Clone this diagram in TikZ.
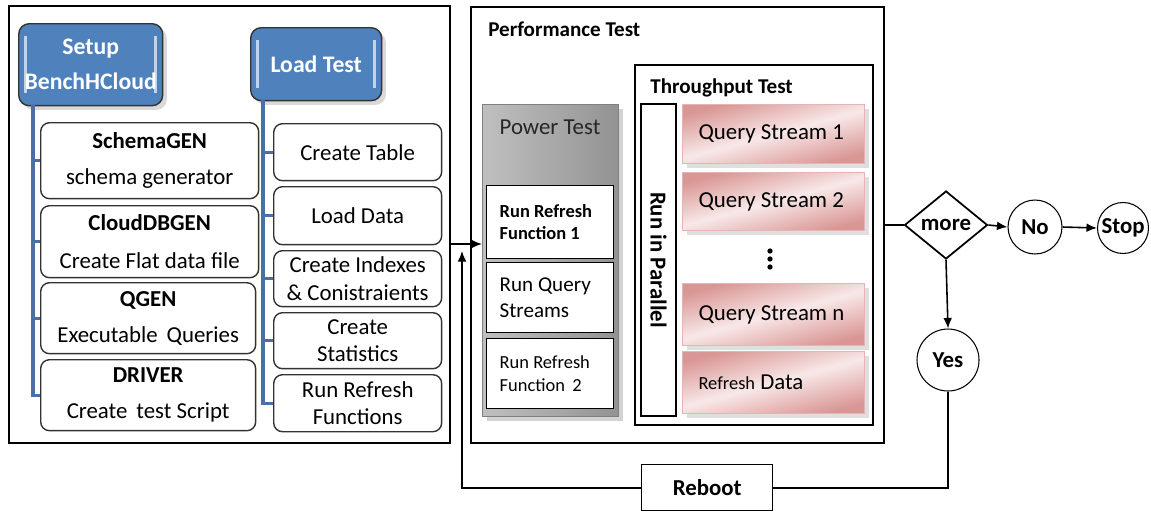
\documentclass[tikz,border=0pt]{standalone}
\usepackage{fontspec}
\setmainfont{Carlito}
\usepackage{tikz}
\usetikzlibrary{shapes.geometric, arrows.meta, positioning, calc, shadows}
\definecolor{setblue}{HTML}{4F81BD}
\definecolor{treeblue}{HTML}{4A6FA5}
\definecolor{pinkdark}{HTML}{D99694}
\definecolor{pinklight}{HTML}{F8E8E8}
\tikzstyle{arrow} = [line width=0.9pt,-{Latex[length=6pt,width=5pt]}]
\tikzstyle{frame} = [draw, line width=1pt, anchor=north west, inner sep=0pt]
\tikzstyle{head} = [draw=black!80, line width=0.8pt, fill=setblue, rounded corners=6pt, text=white, font=\fontsize{13.5}{16}\selectfont\bfseries, align=center, anchor=north west, drop shadow={opacity=0.3},
  path picture={
    \draw[white!65!setblue, line width=1.5pt] ([xshift=4pt,yshift=-7pt]path picture bounding box.north west) -- ([xshift=4pt,yshift=7pt]path picture bounding box.south west);
    \draw[white!65!setblue, line width=1.5pt] ([xshift=-4pt,yshift=-7pt]path picture bounding box.north east) -- ([xshift=-4pt,yshift=7pt]path picture bounding box.south east);
  }]
\tikzstyle{lbox} = [draw=black!80, line width=0.8pt, rounded corners=5pt, align=center, anchor=north west, fill=white]
\tikzstyle{tree} = [draw=treeblue, line width=1.8pt]
\tikzstyle{wbox} = [draw, line width=0.8pt, fill=white, anchor=north west, align=flush left, inner xsep=0.26cm, text width=2.02cm, minimum width=2.54cm]
\tikzstyle{qbox} = [draw=pinkdark!70, line width=0.6pt, top color=pinkdark, bottom color=pinkdark, middle color=pinklight, shading angle=15, anchor=north west, align=flush left, inner xsep=0.32cm, text width=3.0cm, drop shadow={opacity=0.25}]
\tikzstyle{endcirc} = [circle, draw, line width=0.6pt, inner sep=0pt, font=\fontsize{13}{15.6}\selectfont\bfseries]

\begin{document}
\begin{tikzpicture}[x=0.02cm, y=-0.02cm, font=\fontsize{13}{15.6}\selectfont]
  \useasboundingbox (0,0) rectangle (1151,511);

  % Draw setup and load frame
  \node[frame, minimum width=8.82cm, minimum height=8.74cm] (setupframe) at (8,5) {};
  \node[head, minimum width=2.88cm, minimum height=1.64cm] (setup) at (18,23) {Setup\\[4pt]BenchHCloud};
  \node[head, minimum width=2.62cm, minimum height=1.46cm] (loadtest) at (250,27) {Load Test};

  % Setup steps
  \node[lbox, minimum width=4.36cm, minimum height=1.52cm] (schema) at (40,122) {\textbf{SchemaGEN}\\[5pt]schema generator};
  \node[lbox, minimum width=4.36cm, minimum height=1.44cm] (clouddb) at (40,205) {\textbf{CloudDBGEN}\\[6pt]Create Flat data file};
  \node[lbox, minimum width=4.30cm, minimum height=1.42cm] (qgen) at (40,282) {\textbf{QGEN}\\[5pt]Executable\, Queries};
  \node[lbox, minimum width=4.30cm, minimum height=1.42cm] (driver) at (40,359) {\textbf{DRIVER}\\[5pt]Create\, test Script};

  % Load steps
  \node[lbox, minimum width=3.36cm, minimum height=1.14cm] (ctable) at (273,123) {Create Table};
  \node[lbox, minimum width=3.36cm, minimum height=1.16cm] (ldata) at (273,186) {Load Data};
  \node[lbox, minimum width=3.36cm, minimum height=1.12cm] (cindex) at (273,250) {Create Indexes\\\& Conistraients};
  \node[lbox, minimum width=3.36cm, minimum height=1.12cm] (cstats) at (273,312) {Create\\Statistics};
  \node[lbox, minimum width=3.36cm, minimum height=1.14cm] (rrfun) at (273,374) {Run Refresh\\Functions};

  % Tree lines
  \coordinate (ltrunk) at (33,105);
  \coordinate (rtrunk) at (263,100);
  \draw[tree] (ltrunk) |- (driver.west);
  \foreach \n in {schema, clouddb, qgen}
    \draw[tree] (ltrunk |- \n.west) -- (\n.west);
  \draw[tree] (rtrunk) |- (rrfun.west);
  \foreach \n in {ctable, ldata, cindex, cstats}
    \draw[tree] (rtrunk |- \n.west) -- (\n.west);

  % Draw performance frame
  \node[frame, minimum width=8.26cm, minimum height=8.72cm] (perfframe) at (470,6) {};
  \node[anchor=west, inner sep=0pt, font=\fontsize{12}{14}\selectfont\bfseries] (perflabel) at (488,29) {Performance Test};

  % Power test
  \node[draw=gray, line width=0.8pt, anchor=north west, minimum width=2.72cm, minimum height=6.24cm, left color=gray!50, middle color=gray!25, right color=gray!85, drop shadow={opacity=0.35}] (power) at (482,104) {};
  \node[text=black!85] (powerlabel) at (550,127) {Power Test};
  \node[wbox, minimum height=1.46cm, font=\fontsize{10.5}{12.5}\selectfont\bfseries] (rrf1) at (486,185) {Run Refresh\\Function 1};
  \node[wbox, minimum height=1.40cm, font=\fontsize{12}{15}\selectfont] (rqs) at (486,262) {Run Query\\Streams};
  \node[wbox, minimum height=1.40cm, font=\fontsize{10.5}{13}\selectfont] (rrf2) at (486,338) {Run Refresh\\Function\, 2};

  % Throughput test
  \node[frame, minimum width=4.76cm, minimum height=7.2cm] (thruframe) at (634,64) {};
  \node[anchor=west, inner sep=0pt, font=\fontsize{12}{14}\selectfont\bfseries] (thrulabel) at (650,88) {Throughput Test};
  \node[draw, line width=0.8pt, fill=white, rotate=-90, minimum width=6.24cm, minimum height=0.7cm, inner sep=0pt, font=\fontsize{13}{15.6}\selectfont\bfseries] (parallel) at (658.5,260) {Run in Parallel};
  \node[qbox, minimum height=1.18cm] (qs1) at (682,104) {Query Stream 1};
  \node[qbox, minimum height=1.16cm] (qs2) at (682,172) {Query Stream 2};
  \foreach \d in {251,259,267}
    \fill (770,\d) circle (1.5pt);
  \node[qbox, minimum height=1.24cm] (qsn) at (682,283) {Query Stream n};
  \node[qbox, minimum height=1.24cm] (rdata) at (682,351) {{\fontsize{10.5}{13}\selectfont Refresh} Data};

  % Decision and loop
  \node[diamond, draw, line width=1pt, aspect=1.2, inner sep=0pt, minimum width=1.66cm, minimum height=1.36cm, font=\fontsize{13}{15.6}\selectfont\bfseries] (more) at (946,225) {more};
  \node[endcirc, minimum size=1.08cm] (no) at (1035,227) {No};
  \node[endcirc, minimum size=1.02cm] (stop) at (1123,228) {Stop};
  \node[endcirc, minimum size=1.24cm] (yes) at (948,360) {Yes};
  \node[draw, line width=0.8pt, anchor=north west, minimum width=2.62cm, minimum height=0.92cm, font=\fontsize{13}{15.6}\selectfont\bfseries] (reboot) at (641,464) {Reboot};

  \coordinate (entry) at (0,244);
  \coordinate (rettip) at (462,251);
  \draw[arrow] (setupframe.east |- entry) -- (power.west |- entry);
  \draw[line width=0.9pt] (perfframe.east |- more) -- (more.west);
  \draw[arrow] (more.east) -- (no.west);
  \draw[arrow] (no.east) -- (stop.west);
  \draw[arrow] (more.south) -- (yes.north);
  \draw[line width=0.9pt] (yes.south) |- (reboot.east);
  \draw[arrow] (reboot.west) -| (rettip);
\end{tikzpicture}
\end{document}
